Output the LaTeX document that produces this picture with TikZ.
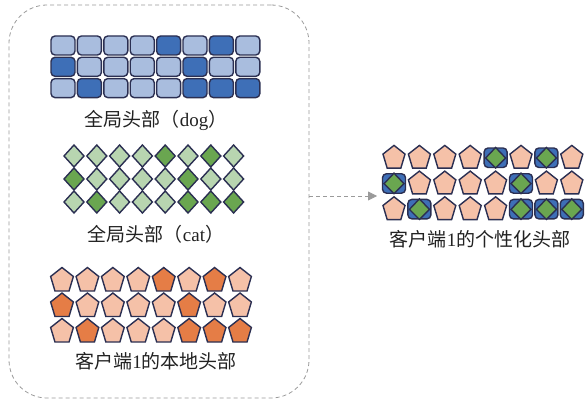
\documentclass[tikz,border=0pt]{standalone}
\usepackage{fontspec}
\setmainfont{Liberation Serif}
\newfontfamily\cjk{Noto Sans CJK SC}
\usetikzlibrary{arrows.meta}
\definecolor{navy}{HTML}{2B2F52}
\definecolor{rlight}{HTML}{A9BDDE}
\definecolor{rdark}{HTML}{3E6FB7}
\definecolor{glight}{HTML}{B8D5B0}
\definecolor{gdark}{HTML}{6AA650}
\definecolor{plight}{HTML}{F5C1A8}
\definecolor{pdark}{HTML}{E57D46}
\definecolor{boxgray}{HTML}{9A9A9A}
\definecolor{txt}{HTML}{222222}
\tikzset{
  cellbox/.style={draw=navy, line width=1.4pt, rounded corners=4pt},
  shapeline/.style={draw=navy, line width=1.4pt, line join=miter},
  lbl/.style={text=txt, font=\fontsize{19}{21}\selectfont, inner sep=0pt},
  groupbox/.style={draw=boxgray, line width=0.8pt, dash pattern=on 4pt off 3pt, rounded corners=38pt},
  conn/.style={draw=boxgray, line width=0.8pt, dash pattern=on 4pt off 3pt, -{Triangle[length=9pt,width=9pt,fill=boxgray]}}
}
\begin{document}
\begin{tikzpicture}[x=1pt,y=-1pt]
\useasboundingbox (0,0) rectangle (585,406);
% group box
\node[groupbox, minimum width=300pt, minimum height=393pt] (box) at (159,201.5) {};
% rectangles (dog)
\foreach \r/\pat in {1/{0,0,0,0,1,0,1,0},2/{1,0,0,0,0,1,0,0},3/{0,1,0,0,0,1,1,1}}{
  \foreach \d [count=\c] in \pat {
    \ifnum\d=1 \def\fc{rdark}\else\def\fc{rlight}\fi
    \pgfmathsetmacro{\xx}{63+26.4*(\c-1)}
    \pgfmathsetmacro{\yy}{45.5+21.3*(\r-1)}
    \filldraw[cellbox, fill=\fc] (\xx-12,\yy-9.5) rectangle (\xx+12,\yy+9.5);
  }
}
\node[lbl] (dog) at (156,120) {{\cjk 全局头部（}dog{\cjk ）}};
% diamonds (cat)
\foreach \r/\pat in {1/{0,0,0,0,1,0,1,0},2/{1,0,0,0,0,1,0,0},3/{0,1,0,0,0,1,1,1}}{
  \foreach \d [count=\c] in \pat {
    \ifnum\d=1 \def\fc{gdark}\else\def\fc{glight}\fi
    \pgfmathsetmacro{\xx}{74+22.8*(\c-1)}
    \pgfmathsetmacro{\yy}{156+23*(\r-1)}
    \filldraw[shapeline, fill=\fc] (\xx,\yy-11) -- (\xx+10,\yy) -- (\xx,\yy+11) -- (\xx-10,\yy) -- cycle;
  }
}
\node[lbl] (cat) at (156,234) {{\cjk 全局头部（}cat{\cjk ）}};
% pentagons (local)
\foreach \r/\pat in {1/{0,0,0,0,1,0,1,0},2/{1,0,0,0,0,1,0,0},3/{0,1,0,0,0,1,1,1}}{
  \foreach \d [count=\c] in \pat {
    \ifnum\d=1 \def\fc{pdark}\else\def\fc{plight}\fi
    \pgfmathsetmacro{\xx}{62+25.43*(\c-1)}
    \pgfmathsetmacro{\yy}{280.5+25.5*(\r-1)}
    \filldraw[shapeline, fill=\fc, shift={(\xx,\yy)}, xscale=0.92]
      (-90:13) -- (-18:13) -- (54:13) -- (126:13) -- (198:13) -- cycle;
  }
}
\node[lbl] (local) at (156,361) {{\cjk 客户端}1{\cjk 的本地头部}};
% personalized head
\foreach \r/\pat in {1/{0,0,0,0,1,0,1,0},2/{1,0,0,0,0,1,0,0},3/{0,1,0,0,0,1,1,1}}{
  \foreach \d [count=\c] in \pat {
    \pgfmathsetmacro{\xx}{394+25.4*(\c-1)}
    \pgfmathsetmacro{\yy}{158+25.7*(\r-1)}
    \ifnum\d=1
      \filldraw[cellbox, fill=rdark] (\xx-11.5,\yy-10) rectangle (\xx+11.5,\yy+9.5);
      \filldraw[shapeline, fill=gdark] (\xx,\yy-10.5) -- (\xx+10,\yy) -- (\xx,\yy+10) -- (\xx-10,\yy) -- cycle;
    \else
      \filldraw[shapeline, fill=plight, shift={(\xx,\yy)}, xscale=0.92]
        (-90:12.6) -- (-18:12.6) -- (54:12.6) -- (126:12.6) -- (198:12.6) -- cycle;
    \fi
  }
}
\node[lbl] (pers) at (480,239) {{\cjk 客户端}1{\cjk 的个性化头部}};
% connector
\coordinate (tip) at (377,196);
\draw[conn] (box.east |- tip) -- (tip);
\end{tikzpicture}
\end{document}
